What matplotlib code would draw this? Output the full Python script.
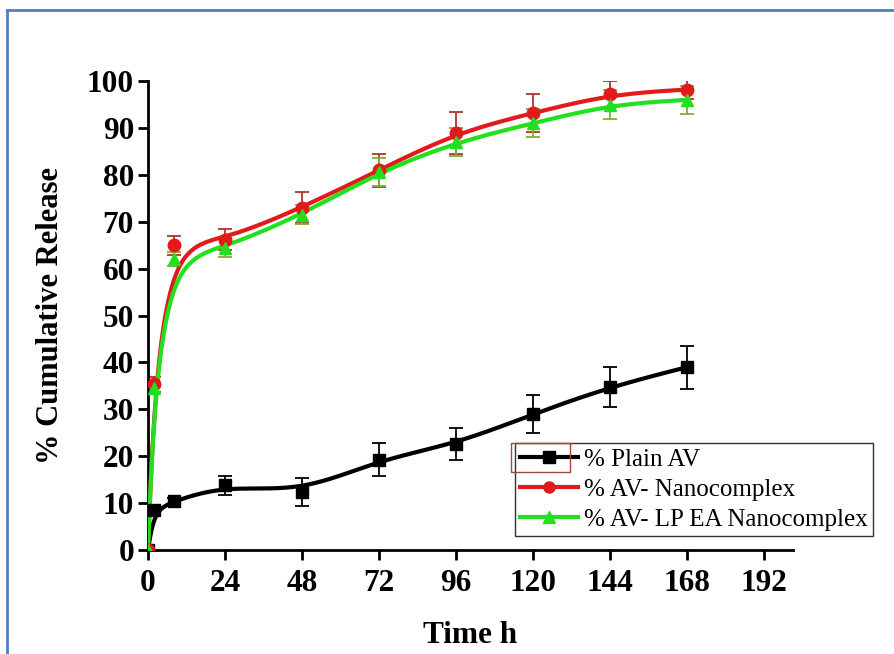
import matplotlib.pyplot as plt
import numpy as np
from matplotlib.lines import Line2D
from matplotlib.patches import Rectangle

plt.rcParams['font.family'] = ['Liberation Serif', 'DejaVu Serif']

time_h = [0, 2, 8, 24, 48, 72, 96, 120, 144, 168]

plain_av = [0, 8.5, 10.4, 13.8, 12.3, 19.3, 22.6, 29.0, 34.8, 39.0]
plain_av_err = [0, 1.0, 0.6, 2.0, 3.0, 3.5, 3.5, 4.0, 4.2, 4.6]

av_nano = [0, 35.3, 65.0, 66.2, 73.0, 81.0, 89.0, 93.2, 97.2, 98.2]
av_nano_err = [0, 1.5, 2.0, 2.2, 3.3, 3.5, 4.5, 4.0, 2.8, 2.0]

av_lp_nano = [0, 34.5, 62.0, 64.5, 71.5, 80.6, 87.0, 91.0, 95.0, 96.0]
av_lp_nano_err = [0, 1.0, 1.5, 2.0, 2.0, 3.0, 3.0, 3.0, 3.0, 3.0]

labels = ['% Plain AV', '% AV- Nanocomplex', '% AV- LP EA Nanocomplex']
line_colors = ['#000000', '#e31a1c', '#22e01e']
err_colors = ['#000000', '#b5332a', '#7fae3a']
markers = ['s', 'o', '^']


def bspline(x, y, steps=40):
    # clamped uniform cubic B-spline using the measured points as control points
    px = np.r_[x[0], x[0], x, x[-1], x[-1]].astype(float)
    py = np.r_[y[0], y[0], y, y[-1], y[-1]].astype(float)
    t = np.linspace(0, 1, steps)
    b0 = (1 - t) ** 3 / 6
    b1 = (3 * t ** 3 - 6 * t ** 2 + 4) / 6
    b2 = (-3 * t ** 3 + 3 * t ** 2 + 3 * t + 1) / 6
    b3 = t ** 3 / 6
    xs, ys = [], []
    for i in range(len(px) - 3):
        xs.append(b0 * px[i] + b1 * px[i + 1] + b2 * px[i + 2] + b3 * px[i + 3])
        ys.append(b0 * py[i] + b1 * py[i + 1] + b2 * py[i + 2] + b3 * py[i + 3])
    return np.concatenate(xs), np.concatenate(ys)


fig = plt.figure(figsize=(8.94, 6.54), dpi=100)
ax = fig.add_axes([0.1655, 0.159, 0.7215, 0.717])

series = [(plain_av, plain_av_err), (av_nano, av_nano_err), (av_lp_nano, av_lp_nano_err)]
handles = []
for (vals, errs), label, lc, ec, mk in zip(series, labels, line_colors, err_colors, markers):
    ax.errorbar(time_h, vals, yerr=errs, fmt='none', ecolor=ec, elinewidth=1.3,
                capsize=5, capthick=1.3, zorder=2)
    sx, sy = bspline(time_h, vals)
    ax.plot(sx, sy, color=lc, lw=3, zorder=3, solid_capstyle='round')
    ax.plot(time_h, vals, linestyle='none', marker=mk, color=lc, markersize=9, zorder=4)
    handles.append(Line2D([], [], color=lc, lw=3, marker=mk, markersize=8))

ax.set_xlim(0, 201)
ax.set_ylim(0, 100)
ax.set_xticks(np.arange(0, 193, 24))
ax.set_yticks(np.arange(0, 101, 10))

for side in ['top', 'right']:
    ax.spines[side].set_visible(False)
for side in ['left', 'bottom']:
    ax.spines[side].set_linewidth(2)
ax.tick_params(direction='out', length=7, width=2, labelsize=22.5)
ax.tick_params(axis='x', pad=7)
ax.tick_params(axis='y', pad=3)
for lbl in ax.get_xticklabels() + ax.get_yticklabels():
    lbl.set_fontweight('bold')

ax.set_xlabel('Time h', fontsize=22.5, fontweight='bold', labelpad=16)
ax.set_ylabel('% Cumulative Release', fontsize=22, fontweight='bold', labelpad=16)

leg = ax.legend(handles, labels, loc='lower right', bbox_to_anchor=(1.124, 0.03),
                fontsize=18, frameon=True, fancybox=False, edgecolor='black',
                handlelength=2.3, handletextpad=0.25, borderpad=0.2,
                labelspacing=0.3, borderaxespad=0)
leg.get_frame().set_linewidth(1)

# selection box around the first legend entry
fig.add_artist(Rectangle((0.572, 0.278), 0.066, 0.044, transform=fig.transFigure,
                         fill=False, edgecolor='#a0473f', lw=1))

# outer blue frame
fig.add_artist(Line2D([0.008, 0.008], [0, 0.985], color='#4f81bd', lw=2,
                      transform=fig.transFigure))
fig.add_artist(Line2D([0.008, 1.0], [0.985, 0.985], color='#4f81bd', lw=2,
                      transform=fig.transFigure))

fig.savefig('out.png', dpi=100)
